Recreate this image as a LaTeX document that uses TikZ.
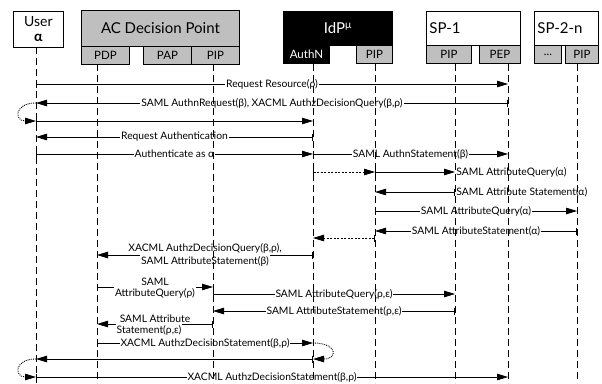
\documentclass[tikz,border=0pt]{standalone}
\usepackage{fontspec}
\setmainfont{Lato}
\usetikzlibrary{arrows.meta}
\definecolor{boxgray}{gray}{0.75}

\tikzset{
  hbox/.style={draw, line width=0.9pt, anchor=north west, inner sep=0pt, font=\fontsize{15}{17}\selectfont},
  sbox/.style={draw, line width=0.9pt, fill=boxgray, anchor=north west, inner sep=0pt, minimum height=18pt, font=\fontsize{11.5}{13}\selectfont},
  life/.style={line width=1pt, dash pattern=on 7pt off 4pt},
  msg/.style={line width=0.8pt, {Bar[width=7pt]}-{Triangle[length=11pt,width=6.5pt]}},
  dmsg/.style={msg, dash pattern=on 2pt off 1.5pt},
  selfloop/.style={line width=0.9pt, densely dotted, -{Triangle[length=11pt,width=6.5pt]}},
  lbl/.style={fill=white, inner sep=1pt, font=\fontsize{10.3}{12}\selectfont},
  rlbl/.style={lbl, fill=none, anchor=west},
}

\begin{document}
\begin{tikzpicture}[x=1pt, y=-1pt]
  \useasboundingbox (0,0) rectangle (602,383);

  \node[hbox, fill=white, minimum width=50pt, minimum height=36pt, align=center, font=\fontsize{14}{15}\selectfont] (userbox) at (13,11) {User\\\textbf{α}};
  \node[hbox, fill=boxgray, minimum width=158pt, minimum height=36pt] (acbox) at (81,10) {AC Decision Point};
  \node[sbox, minimum width=48pt] (pdpbox) at (81,46) {PDP};
  \node[sbox, minimum width=48pt] (papbox) at (143,46) {PAP};
  \node[sbox, minimum width=48pt] (acpipbox) at (191,46) {PIP};
  \node[hbox, fill=black, text=white, minimum width=109pt, minimum height=34pt] (idpbox) at (283,11) {IdP\textsuperscript{μ}};
  \node[sbox, fill=black, text=white, minimum width=46pt] (authnbox) at (283,45) {AuthN};
  \node[sbox, minimum width=36pt] (idppipbox) at (356,45) {PIP};
  \node[hbox, fill=white, minimum width=94pt, minimum height=34pt, text width=88pt, align=left] (sp1box) at (426,11) {SP-1};
  \node[sbox, minimum width=45pt] (sp1pipbox) at (426,45) {PIP};
  \node[sbox, minimum width=41pt] (pepbox) at (479,45) {PEP};
  \node[hbox, fill=white, minimum width=64pt, minimum height=34pt, text width=58pt, align=left] (sp2box) at (534,11) {SP-2-n};
  \node[sbox, minimum width=27pt] (dotsbox) at (534,45) {...};
  \node[sbox, minimum width=33pt] (sp2pipbox) at (565,45) {PIP};

  \coordinate (user) at (36,47);
  \coordinate (pdp) at (97,64);
  \coordinate (acpip) at (213,64);
  \coordinate (authn) at (313,64);
  \coordinate (idppip) at (375,64);
  \coordinate (sppip) at (455,64);
  \coordinate (pep) at (508,64);
  \coordinate (sp2pip) at (577,64);
  \coordinate (bot) at (0,383);
  \foreach \n/\y in {1/84, 2/103, 3/121, 4/137, 5/154, 6/172, 7/192, 8/211, 9/231, 10/238,
                     11/255, 12/287, 13/294, 14/311, 15/324, 16/343, 17/359, 18/377}
    \coordinate (r\n) at (0,\y);

  \draw[msg] (user |- r1) -- node[lbl]{Request Resource(ρ)} (pep |- r1);
  \draw[msg] (pep |- r2) -- node[lbl]{SAML AuthnRequest(β), XACML AuthzDecisionQuery(β,ρ)} (user |- r2);
  \draw[selfloop] (user |- r2) .. controls +(-22,0) and +(-22,0) .. (user |- r3);
  \draw[msg] (user |- r3) -- (authn |- r3);
  \draw[msg] (authn |- r4) -- node[lbl]{Request Authentication} (user |- r4);
  \draw[msg] (user |- r5) -- node[lbl]{Authenticate as α} (authn |- r5);
  \draw[msg] (authn |- r5) -- node[lbl]{SAML AuthnStatement(β)} (pep |- r5);
  \draw[dmsg] (authn |- r6) -- (idppip |- r6);
  \draw[msg] (idppip |- r6) -- (sppip |- r6) node[rlbl]{SAML AttributeQuery(α)};
  \draw[msg] (sppip |- r7) node[rlbl]{SAML Attribute Statement(α)} -- (idppip |- r7);
  \draw[msg] (idppip |- r8) -- node[lbl]{SAML AttributeQuery(α)} (sp2pip |- r8);
  \draw[msg] (sp2pip |- r9) -- node[lbl]{SAML AttributeStatement(α)} (idppip |- r9);
  \draw[dmsg] (idppip |- r10) -- (authn |- r10);
  \draw[msg] (authn |- r11) -- node[lbl, above]{XACML AuthzDecisionQuery(β,ρ),} node[lbl, below]{SAML AttributeStatement(β)} (pdp |- r11);
  \draw[msg] (pdp |- r12) -- node[lbl, above]{SAML} node[lbl, below]{AttributeQuery(ρ)} (acpip |- r12);
  \draw[msg] (acpip |- r13) -- node[lbl]{SAML AttributeQuery(ρ,ε)} (sppip |- r13);
  \draw[msg] (sppip |- r14) -- node[lbl]{SAML AttributeStatement(ρ,ε)} (acpip |- r14);
  \draw[msg] (acpip |- r15) -- node[lbl, above]{SAML Attribute} node[lbl, below, xshift=-6pt]{Statement(ρ,ε)} (pdp |- r15);
  \draw[msg] (pdp |- r16) -- node[lbl]{XACML AuthzDecisionStatement(β,ρ)} (authn |- r16);
  \draw[selfloop] (authn |- r16) .. controls +(25,0) and +(25,0) .. (authn |- r17);
  \draw[msg] (authn |- r17) -- (user |- r17);
  \draw[selfloop] (user |- r17) .. controls +(-22,0) and +(-22,0) .. (user |- r18);
  \draw[msg] (user |- r18) -- node[lbl]{XACML AuthzDecisionStatement(β,ρ)} (pep |- r18);

  \foreach \l in {user, pdp, acpip, authn, idppip, sppip, pep, sp2pip}
    \draw[life] (\l) -- (\l |- bot);
\end{tikzpicture}
\end{document}
